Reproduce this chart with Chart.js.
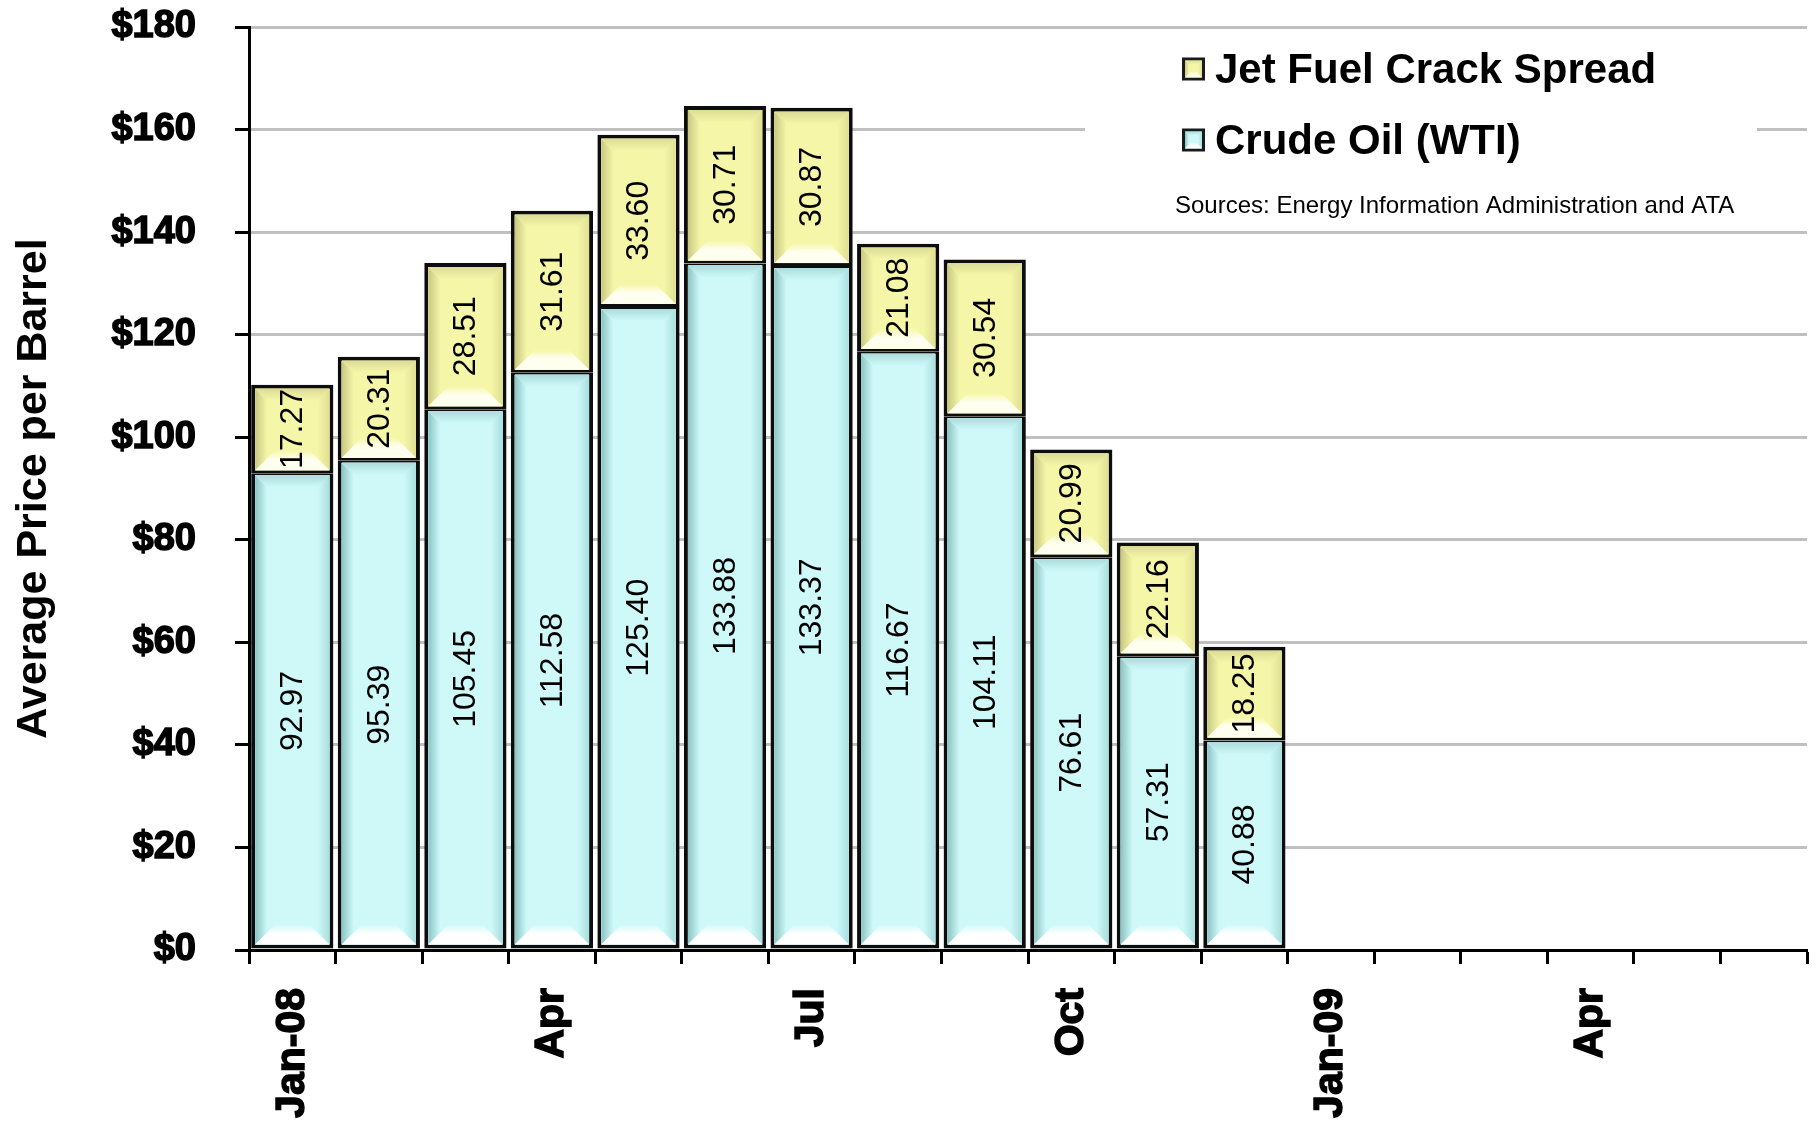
<!DOCTYPE html>
<html>
<head>
<meta charset="utf-8">
<script src="https://cdn.jsdelivr.net/npm/chart.js@4/dist/chart.umd.min.js"></script>
<style>
  html, body { margin: 0; padding: 0; background: #ffffff; }
  #wrap { width: 1816px; height: 1124px; position: relative; }
</style>
</head>
<body>
<div id="wrap"><canvas id="chart" width="1816" height="1124"></canvas></div>
<script>
// Monthly categories, Jan 2008 – Jun 2009 (only quarter starts are labelled)
const months = ['Jan-08', '', '', 'Apr', '', '', 'Jul', '', '', 'Oct', '', '', 'Jan-09', '', '', 'Apr', '', ''];

// Average price per barrel, USD
const crudeOil = [92.97, 95.39, 105.45, 112.58, 125.40, 133.88, 133.37, 116.67, 104.11, 76.61, 57.31, 40.88,
                  null, null, null, null, null, null];
const crackSpread = [17.27, 20.31, 28.51, 31.61, 33.60, 30.71, 30.87, 21.08, 30.54, 20.99, 22.16, 18.25,
                     null, null, null, null, null, null];

const seriesNames = ['Crude Oil (WTI)', 'Jet Fuel Crack Spread'];
const priceTicks = [0, 20, 40, 60, 80, 100, 120, 140, 160, 180];
const axisTitle = 'Average Price per Barrel';
const sourceNote = 'Sources: Energy Information Administration and ATA';

const FONT = '"Liberation Sans", Arial, Helvetica, sans-serif';

// Bevel palettes for the two fills
const palettes = [
  { base: '#cff9f9', left: '#8cc4c4', right: '#aadede', top: '#acdcdc', bottom: '#ffffff' },
  { base: '#f6f6a8', left: '#c8c882', right: '#e0e094', top: '#dcdc96', bottom: '#fffff0' }
];

function drawBevel(ctx, l, t, r, b, pal, d, dB) {
  const w = r - l, h = b - t;
  if (w <= 0 || h <= 0) return;
  d = Math.min(d, w / 2, h / 2);
  dB = Math.min(dB, w / 2, h / 2);
  ctx.save();
  ctx.fillStyle = pal.base;
  ctx.fillRect(l, t, w, h);
  // left band
  let g = ctx.createLinearGradient(l, 0, l + d, 0);
  g.addColorStop(0, pal.left); g.addColorStop(1, pal.base);
  ctx.fillStyle = g;
  ctx.beginPath(); ctx.moveTo(l, t); ctx.lineTo(l + d, t + d); ctx.lineTo(l + d, b - d); ctx.lineTo(l, b); ctx.closePath(); ctx.fill();
  // right band
  g = ctx.createLinearGradient(r, 0, r - d, 0);
  g.addColorStop(0, pal.right); g.addColorStop(1, pal.base);
  ctx.fillStyle = g;
  ctx.beginPath(); ctx.moveTo(r, t); ctx.lineTo(r - d, t + d); ctx.lineTo(r - d, b - d); ctx.lineTo(r, b); ctx.closePath(); ctx.fill();
  // top band
  g = ctx.createLinearGradient(0, t, 0, t + d);
  g.addColorStop(0, pal.top); g.addColorStop(1, pal.base);
  ctx.fillStyle = g;
  ctx.beginPath(); ctx.moveTo(l, t); ctx.lineTo(r, t); ctx.lineTo(r - d, t + d); ctx.lineTo(l + d, t + d); ctx.closePath(); ctx.fill();
  // bottom highlight
  g = ctx.createLinearGradient(0, b, 0, b - dB);
  g.addColorStop(0, pal.bottom); g.addColorStop(0.55, pal.bottom); g.addColorStop(1, pal.base);
  ctx.fillStyle = g;
  ctx.beginPath(); ctx.moveTo(l, b); ctx.lineTo(r, b); ctx.lineTo(r - dB, b - dB); ctx.lineTo(l + dB, b - dB); ctx.closePath(); ctx.fill();
  ctx.restore();
}

// Bevelled fills and rotated value labels inside each stacked segment
const barDecor = {
  id: 'barDecor',
  afterDatasetsDraw(chart) {
    const ctx = chart.ctx;
    chart.data.datasets.forEach((ds, di) => {
      const meta = chart.getDatasetMeta(di);
      const bw = ds.borderWidth;
      meta.data.forEach((el, i) => {
        const v = ds.data[i];
        if (v === null || v === undefined) return;
        const p = el.getProps(['x', 'y', 'base', 'width'], true);
        const l = p.x - p.width / 2, r = p.x + p.width / 2;
        const t = Math.min(p.y, p.base), b = Math.max(p.y, p.base);
        drawBevel(ctx, l + bw.left, t + bw.top, r - bw.right, b - bw.bottom, palettes[di], 12, 20);
        ctx.save();
        ctx.translate(p.x, (t + b) / 2);
        ctx.rotate(-Math.PI / 2);
        ctx.font = '32px ' + FONT;
        ctx.fillStyle = '#000';
        ctx.textAlign = 'center';
        ctx.textBaseline = 'middle';
        ctx.fillText(v.toFixed(2), 0, 1);
        ctx.restore();
      });
    });
  }
};

// Legend and source note placed inside the plot area, top right
const insetLegend = {
  id: 'insetLegend',
  afterDraw(chart) {
    const ctx = chart.ctx;
    const ca = chart.chartArea;
    const boxL = ca.right - 722, boxT = ca.top + 13;
    ctx.save();
    ctx.fillStyle = '#ffffff';
    ctx.fillRect(boxL, boxT, 672, 182);
    const order = chart.data.datasets.map((d, i) => i).reverse();
    order.forEach((di, k) => {
      const cy = boxT + 29 + k * 71;
      const mx = boxL + 97, size = 23;
      ctx.fillStyle = '#1a1a1a';
      ctx.fillRect(mx, cy - size / 2, size, size);
      drawBevel(ctx, mx + 3, cy - size / 2 + 3, mx + size - 3, cy + size / 2 - 3, palettes[di], 4, 6);
      ctx.fillStyle = '#000';
      ctx.font = 'bold 42px ' + FONT;
      ctx.textAlign = 'left';
      ctx.textBaseline = 'middle';
      ctx.fillText(chart.data.datasets[di].label, mx + 33, cy + 2);
    });
    ctx.font = '24px ' + FONT;
    ctx.textBaseline = 'middle';
    ctx.fillText(sourceNote, boxL + 90, boxT + 166);
    ctx.restore();
  }
};

new Chart(document.getElementById('chart'), {
  type: 'bar',
  data: {
    labels: months,
    datasets: [
      {
        label: seriesNames[0],
        data: crudeOil,
        backgroundColor: palettes[0].base,
        borderColor: '#0d0d0d',
        borderWidth: { top: 2, bottom: 4, left: 4, right: 4 },
        borderSkipped: false,
        barPercentage: 0.95,
        categoryPercentage: 1.0
      },
      {
        label: seriesNames[1],
        data: crackSpread,
        backgroundColor: palettes[1].base,
        borderColor: '#0d0d0d',
        borderWidth: { top: 4, bottom: 3, left: 4, right: 4 },
        borderSkipped: false,
        barPercentage: 0.95,
        categoryPercentage: 1.0
      }
    ]
  },
  options: {
    responsive: false,
    devicePixelRatio: 1,
    animation: false,
    layout: { padding: { top: 27, right: 9, left: 0, bottom: 0 } },
    plugins: {
      legend: { display: false },
      tooltip: { enabled: false }
    },
    scales: {
      x: {
        stacked: true,
        offset: true,
        border: { display: true, color: '#000', width: 3 },
        grid: {
          offset: true,
          drawOnChartArea: false,
          drawTicks: true,
          tickLength: 14,
          tickWidth: 3,
          tickColor: '#000'
        },
        ticks: {
          autoSkip: false,
          maxRotation: 90,
          minRotation: 90,
          padding: 24,
          color: '#000',
          textStrokeColor: '#000',
          textStrokeWidth: 1.5,
          font: { family: FONT, size: 41, weight: 'bold' }
        },
        afterFit(scale) {
          scale.height = 174;
          scale.paddingLeft = 0;
          scale.paddingRight = 0;
        }
      },
      y: {
        stacked: true,
        min: 0,
        max: 180,
        border: { display: true, color: '#000', width: 3 },
        grid: {
          color: (c) => (c.tick && c.tick.value === 0 ? 'rgba(0,0,0,0)' : '#c0c0c0'),
          lineWidth: 3,
          drawTicks: true,
          tickLength: 14,
          tickWidth: 3,
          tickColor: '#000'
        },
        afterBuildTicks(scale) { scale.ticks = priceTicks.map(v => ({ value: v })); },
        ticks: {
          padding: 39,
          color: '#000',
          textStrokeColor: '#000',
          textStrokeWidth: 1.5,
          font: { family: FONT, size: 38, weight: 'bold' },
          callback: (v) => '$' + v
        },
        title: {
          display: true,
          text: axisTitle,
          color: '#000',
          font: { family: FONT, size: 43, weight: 'bold' },
          padding: { top: 8, bottom: 0 }
        },
        afterFit(scale) {
          scale.width = 249;
          scale.paddingTop = 0;
          scale.paddingBottom = 0;
        }
      }
    }
  },
  plugins: [barDecor, insetLegend]
});
</script>
</body>
</html>
